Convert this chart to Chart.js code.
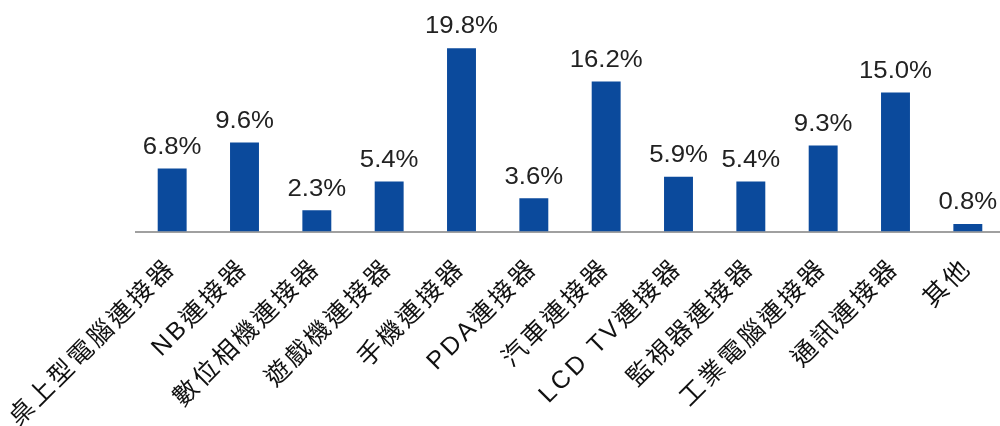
<!DOCTYPE html>
<html>
<head>
<meta charset="utf-8">
<script src="https://cdn.jsdelivr.net/npm/chart.js@4"></script>
<style>
  html, body { margin: 0; padding: 0; background: #fff; overflow: hidden; }
  #wrap { width: 1004px; height: 426px; position: relative; }
</style>
</head>
<body>
<div id="wrap"><canvas id="ch"></canvas></div>
<script>
const categories = [
  "桌上型電腦連接器", "NB連接器", "數位相機連接器", "遊戲機連接器",
  "手機連接器", "PDA連接器", "汽車連接器", "LCD TV連接器",
  "監視器連接器", "工業電腦連接器", "通訊連接器", "其他"
];
const shares = [6.8, 9.6, 2.3, 5.4, 19.8, 3.6, 16.2, 5.9, 5.4, 9.3, 15.0, 0.8];
const shareLabels = shares.map((v) => v.toFixed(1) + "%");

const barColor = "#0b4a9c";
const textFont = '"Liberation Sans", "Noto Sans CJK TC", sans-serif';

// a bit of spacing in the tick labels, like the original
const tickSpacing = {
  id: "tickSpacing",
  beforeDraw(chart) {
    chart.ctx.letterSpacing = "3px";
  },
  beforeDatasetsDraw(chart) {
    chart.ctx.letterSpacing = "0px";
  },
};

// value labels above each bar
const valueLabels = {
  id: "valueLabels",
  afterDatasetsDraw(chart) {
    const ctx = chart.ctx;
    const meta = chart.getDatasetMeta(0);
    ctx.save();
    ctx.fillStyle = "#222";
    ctx.font = "23px " + textFont;
    ctx.textAlign = "center";
    ctx.textBaseline = "middle";
    meta.data.forEach((bar, i) => {
      ctx.save();
      ctx.translate(bar.x, bar.y - 21);
      ctx.scale(1.12, 1);
      ctx.fillText(shareLabels[i], 0, 0);
      ctx.restore();
    });
    ctx.restore();
  },
};

new Chart(document.getElementById("ch"), {
  type: "bar",
  data: {
    labels: categories,
    datasets: [
      {
        data: shares,
        backgroundColor: barColor,
        borderWidth: 0,
        barPercentage: 0.4,
        categoryPercentage: 1,
      },
    ],
  },
  options: {
    responsive: true,
    maintainAspectRatio: false,
    animation: false,
    layout: { padding: { left: 136, top: 0, right: 0, bottom: 0 } },
    plugins: { legend: { display: false }, tooltip: { enabled: false } },
    scales: {
      x: {
        grid: { display: false, drawTicks: false },
        border: { display: true, color: "#a0a0a0", width: 2 },
        ticks: {
          autoSkip: false,
          maxRotation: 45,
          minRotation: 45,
          padding: 22,
          color: "#111",
          font: { size: 25, family: textFont },
        },
        afterFit(s) {
          s.height = 194.5;
          s.paddingLeft = 0;
          s.paddingRight = 0;
        },
      },
      y: { display: false, min: 0, max: 25 },
    },
  },
  plugins: [tickSpacing, valueLabels],
});
</script>
</body>
</html>
